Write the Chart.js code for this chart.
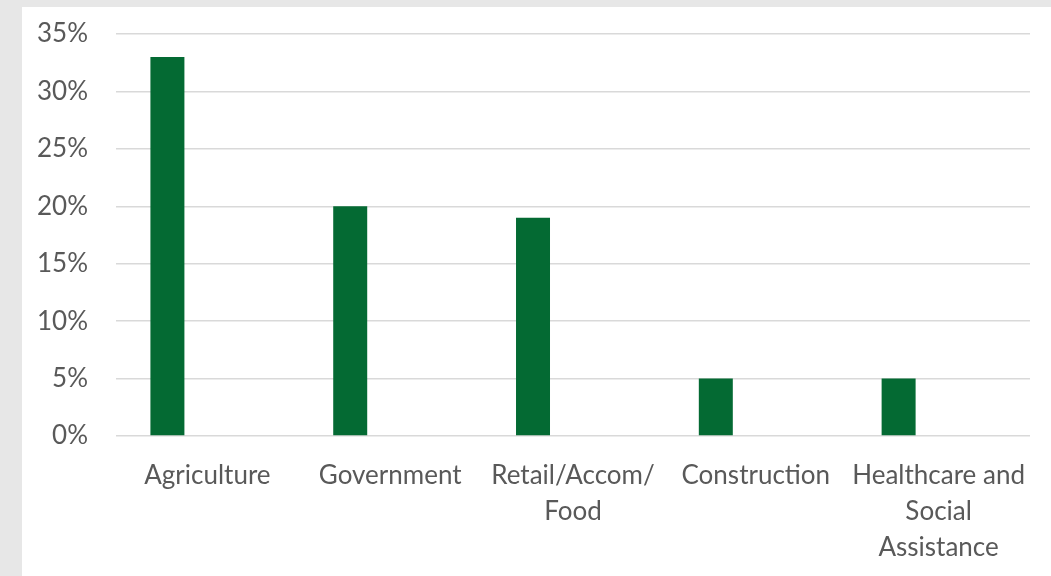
<!DOCTYPE html>
<html>
<head>
<meta charset="utf-8">
<script src="https://cdn.jsdelivr.net/npm/chart.js@4.4.1/dist/chart.umd.min.js"></script>
<style>
  html, body { margin: 0; padding: 0; background: #e7e7e7; width: 1051px; height: 576px; overflow: hidden; }
  #panel { position: absolute; left: 22px; top: 7px; width: 1029px; height: 569px; background: #fff; }
</style>
</head>
<body>
<div id="panel"><canvas id="chart" width="1029" height="569"></canvas></div>
<script>
const categories = [
  'Agriculture',
  'Government',
  ['Retail/Accom/', 'Food'],
  'Construction',
  ['Healthcare and', 'Social', 'Assistance']
];
const shareValues = [0.33, 0.20, 0.19, 0.05, 0.05];
const emptySeries = [null, null, null, null, null];
const yTicks = [0, 0.05, 0.10, 0.15, 0.20, 0.25, 0.30, 0.35];

const ctx = document.getElementById('chart').getContext('2d');
new Chart(ctx, {
  type: 'bar',
  data: {
    labels: categories,
    datasets: [
      { label: 'Share', data: shareValues, backgroundColor: '#046a33', categoryPercentage: 0.875, barPercentage: 0.425 },
      { label: '', data: emptySeries, backgroundColor: '#046a33', categoryPercentage: 0.875, barPercentage: 0.425 }
    ]
  },
  options: {
    responsive: false,
    animation: false,
    layout: { padding: { top: 27, right: 21, left: 0, bottom: 0 } },
    plugins: { legend: { display: false }, tooltip: { enabled: false } },
    scales: {
      x: {
        grid: { display: false },
        border: { display: false },
        ticks: { color: '#595959', font: { family: 'Lato', size: 26, lineHeight: 1.4 }, padding: 13, maxRotation: 0, autoSkip: false },
        afterFit: s => { s.height = 140; s.paddingLeft = 0; s.paddingRight = 0; }
      },
      y: {
        min: 0,
        max: 0.35,
        afterBuildTicks: s => { s.ticks = yTicks.map(v => ({ value: v })); },
        grid: { color: '#d9d9d9', lineWidth: 1.5, drawTicks: false },
        border: { display: false },
        ticks: {
          color: '#595959',
          font: { family: 'Lato', size: 26 },
          padding: 28,
          callback: v => Math.round(v * 100) + '%'
        },
        afterFit: s => { s.width = 94; s.paddingTop = 0; s.paddingBottom = 0; }
      }
    }
  }
});
</script>
</body>
</html>
